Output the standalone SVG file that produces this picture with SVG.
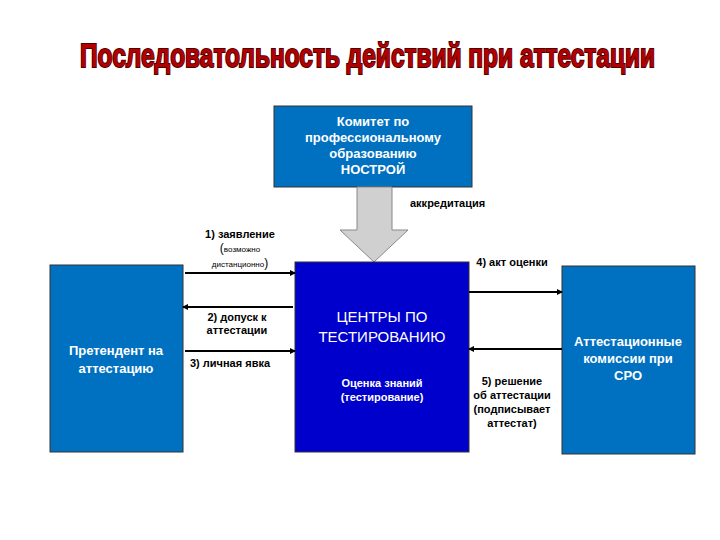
<svg xmlns="http://www.w3.org/2000/svg" width="720" height="540" viewBox="0 0 720 540">
<style>
text{font-family:"Liberation Sans",Arial,sans-serif;font-weight:bold}
.lbl{font-size:11px;fill:#000}
.w{fill:#fff;text-anchor:middle}
.ln{stroke:#000;stroke-width:2;fill:none}
</style>
<defs>
<marker id="ah" markerWidth="6" markerHeight="6" refX="5" refY="3" orient="auto" markerUnits="userSpaceOnUse"><path d="M0,0L6,3L0,6z" fill="#000"/></marker>
</defs>
<rect width="720" height="540" fill="#fff"/>
<text x="80" y="67" font-size="33" fill="#b00000" stroke="#500000" stroke-width="2" paint-order="stroke" textLength="575" lengthAdjust="spacingAndGlyphs">Последоватольность действий при аттестации</text>
<g id="committee">
<rect x="274" y="106" width="198" height="81" fill="#0070c0" stroke="#333"/>
<text class="w" font-size="13"><tspan x="373" y="126">Комитет по</tspan><tspan x="373" y="142">профессиональному</tspan><tspan x="373" y="158">образованию</tspan><tspan x="373" y="174">НОСТРОЙ</tspan></text>
</g>
<g id="accr">
<path d="M357,187H392V230H408L374,262L340,230H357Z" fill="#d0d0d0" stroke="#888"/>
<text class="lbl" x="410" y="207">аккредитация</text>
</g>
<g id="applicant">
<rect x="50" y="265" width="133" height="187" fill="#0070c0" stroke="#333"/>
<text class="w" font-size="13"><tspan x="116" y="355">Претендент на</tspan><tspan x="116" y="373">аттестацию</tspan></text>
</g>
<g id="centers">
<rect x="295" y="262" width="174" height="190" fill="#0000cc" stroke="#333"/>
<text class="w" font-size="15" style="font-weight:normal"><tspan x="382" y="322">ЦЕНТРЫ ПО</tspan><tspan x="382" y="342">ТЕСТИРОВАНИЮ</tspan></text>
<text class="w" font-size="11"><tspan x="382" y="387">Оценка знаний</tspan><tspan x="382" y="401">(тестирование)</tspan></text>
</g>
<g id="commission">
<rect x="562" y="266" width="133" height="188" fill="#0070c0" stroke="#333"/>
<text class="w" font-size="13"><tspan x="628" y="346">Аттестационные</tspan><tspan x="628" y="363">комиссии при</tspan><tspan x="628" y="380">СРО</tspan></text>
</g>
<g id="connectors">
<line class="ln" x1="185" y1="273" x2="295" y2="273" marker-end="url(#ah)"/>
<line class="ln" x1="293" y1="307" x2="183" y2="307" marker-end="url(#ah)"/>
<line class="ln" x1="185" y1="351" x2="295" y2="351" marker-end="url(#ah)"/>
<line class="ln" x1="469" y1="292" x2="562" y2="292" marker-end="url(#ah)"/>
<line class="ln" x1="562" y1="349" x2="469" y2="349" marker-end="url(#ah)"/>
</g>
<g id="labels">
<text class="lbl" x="240" y="238" text-anchor="middle">1)  заявление</text>
<text class="lbl" x="240" y="252" text-anchor="middle" style="font-weight:normal"><tspan font-size="12">(</tspan><tspan font-size="8">возможно</tspan></text>
<text class="lbl" x="240" y="267" text-anchor="middle" style="font-weight:normal"><tspan font-size="8">дистанционно</tspan><tspan font-size="12">)</tspan></text>
<text class="lbl" text-anchor="middle"><tspan x="237" y="321">2) допуск к</tspan><tspan x="237" y="334">аттестации</tspan></text>
<text class="lbl" x="190" y="367">3) личная явка</text>
<text class="lbl" x="512" y="266" text-anchor="middle">4) акт оценки</text>
<text class="lbl" text-anchor="middle"><tspan x="512" y="385">5)  решение</tspan><tspan x="512" y="399">об аттестации</tspan><tspan x="512" y="413">(подписывает</tspan><tspan x="512" y="427">аттестат)</tspan></text>
</g>
</svg>
